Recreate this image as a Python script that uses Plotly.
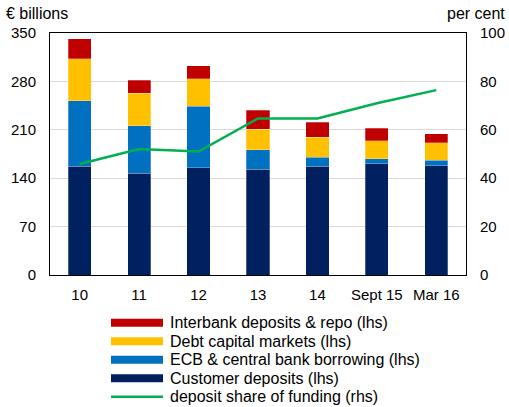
import plotly.graph_objects as go

categories = ["10", "11", "12", "13", "14", "Sept 15", "Mar 16"]
customer = [157, 147, 155, 153, 157, 161, 158]
ecb = [95, 69, 89, 28, 13, 7, 8]
debt = [61, 47, 40, 30, 29, 26, 25]
interbank = [29, 19, 19, 27, 22, 18, 13]
deposit_share = [45.9, 52.1, 51.0, 64.7, 64.7, 71.0, 76.4]

series = [
    ("Customer deposits (lhs)", customer, "#002060"),
    ("ECB & central bank borrowing (lhs)", ecb, "#0070C0"),
    ("Debt capital markets (lhs)", debt, "#FFC000"),
    ("Interbank deposits & repo (lhs)", interbank, "#C00000"),
]
line_name = "deposit share of funding (rhs)"
line_color = "#00B050"

fig = go.Figure()
for name, vals, col in series:
    fig.add_trace(go.Bar(x=categories, y=vals, name=name, marker_color=col,
                         marker_line=dict(width=0.6, color="rgba(255,255,255,0.45)"),
                         showlegend=False, width=0.39))

fig.add_trace(go.Scatter(x=categories, y=deposit_share, yaxis="y2", mode="lines",
                         name=line_name, line=dict(color=line_color, width=2.5),
                         showlegend=False))

W, H, L, R, T, B = 509, 407, 50, 43, 33, 132
pw = W - L - R
ph = H - T - B


def px(x):
    return (x - L) / pw


def py(y):
    return (H - B - y) / ph


# manual legend (matches the reference's compact spacing)
legend_items = [(n, c, 8) for n, _, c in reversed(series)] + [(line_name, line_color, 2.5)]
shapes = []
annotations = []
row0, step = 322.7, 18.5
for i, (name, col, thick) in enumerate(legend_items):
    yc = row0 + i * step
    shapes.append(dict(type="line", xref="paper", yref="paper",
                       x0=px(111), x1=px(163), y0=py(yc), y1=py(yc),
                       line=dict(color=col, width=thick)))
    annotations.append(dict(text=name, xref="paper", yref="paper", x=px(168), y=py(yc),
                            xanchor="left", yanchor="middle", showarrow=False,
                            font=dict(size=16)))

annotations.append(dict(text="€ billions", xref="paper", yref="paper", x=px(4), y=py(14),
                        xanchor="left", yanchor="middle", showarrow=False,
                        font=dict(size=16)))
annotations.append(dict(text="per cent", xref="paper", yref="paper", x=px(507), y=py(14),
                        xanchor="right", yanchor="middle", showarrow=False,
                        font=dict(size=16)))

fig.update_layout(
    barmode="stack",
    width=W, height=H,
    margin=dict(l=L, r=R, t=T, b=B, autoexpand=False),
    plot_bgcolor="white", paper_bgcolor="white",
    showlegend=False,
    font=dict(family="Liberation Sans, Arial", size=15, color="black"),
    xaxis=dict(showline=True, linecolor="black", linewidth=1, mirror=True,
               ticks="", tickfont=dict(size=15), tickangle=0, ticklabelstandoff=6),
    yaxis=dict(range=[0, 350], tickvals=[0, 70, 140, 210, 280, 350],
               showgrid=True, gridcolor="#D9D9D9", gridwidth=1,
               showline=True, linecolor="black", linewidth=1, ticks="",
               zeroline=False, tickfont=dict(size=15), ticklabelstandoff=10),
    yaxis2=dict(range=[0, 100], tickvals=[0, 20, 40, 60, 80, 100], overlaying="y",
                side="right", showgrid=False, showline=True, linecolor="black",
                linewidth=1, ticks="", zeroline=False, tickfont=dict(size=15),
                ticklabelstandoff=10),
    shapes=shapes,
    annotations=annotations,
)

fig.write_html("out.html")
